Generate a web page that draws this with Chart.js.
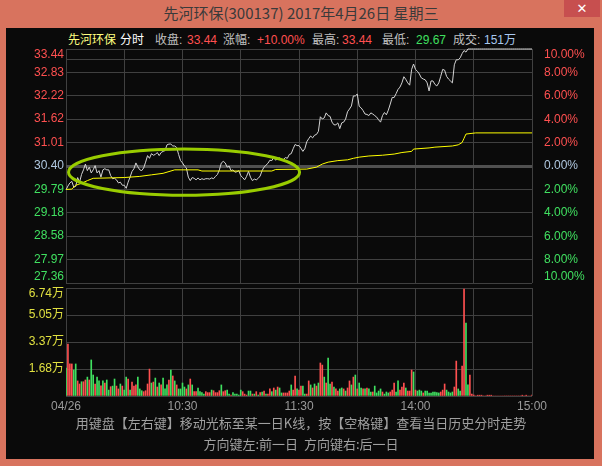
<!DOCTYPE html>
<html><head><meta charset="utf-8">
<script src="https://cdn.jsdelivr.net/npm/chart.js@4"></script>
<style>
html,body{margin:0;padding:0;}
body{width:602px;height:466px;overflow:hidden;position:relative;background:#d8735e;font-family:"Noto Sans CJK SC",sans-serif;}
#title{position:absolute;left:0;top:3px;width:602px;text-align:center;font-size:15px;line-height:20px;color:#3a3a3a;}
#close{position:absolute;left:564px;top:0;width:36px;height:17px;background:#c74f4f;color:#fff;text-align:center;font:bold 13px/17px "DejaVu Sans",sans-serif;}
#panel{position:absolute;left:6px;top:28px;width:588px;height:431px;background:#0a0a0a;}
.info{position:absolute;top:32px;font-size:12px;line-height:16px;white-space:nowrap;font-family:"Liberation Sans","Noto Sans CJK SC",sans-serif;}
.tip{position:absolute;left:0;width:602px;text-align:center;color:#a0a0a0;font-size:13px;line-height:16px;white-space:pre;}
canvas{position:absolute;left:0;}
</style></head>
<body>
<div id="title">先河环保(300137) 2017年4月26日 星期三</div>
<div id="close">✕</div>
<div id="panel"></div>
<span class="info" style="left:68px;color:#ffff80">先河环保</span>
<span class="info" style="left:120px;color:#ffffff">分时</span>
<span class="info" style="left:155px;color:#c0c0c0">收盘:</span>
<span class="info" style="left:187px;color:#ff5050">33.44</span>
<span class="info" style="left:223px;color:#c0c0c0">涨幅:</span>
<span class="info" style="left:257px;color:#ff5050">+10.00%</span>
<span class="info" style="left:312px;color:#c0c0c0">最高:</span>
<span class="info" style="left:342px;color:#ff5050">33.44</span>
<span class="info" style="left:382px;color:#c0c0c0">最低:</span>
<span class="info" style="left:416px;color:#40e060">29.67</span>
<span class="info" style="left:453px;color:#c0c0c0">成交:</span>
<span class="info" style="left:484px;color:#a8c8f0">151万</span>
<canvas id="cp" width="602" height="290" style="top:0"></canvas>
<canvas id="cv" width="602" height="140" style="top:280px"></canvas>
<div class="tip" style="top:415px">用键盘【左右键】移动光标至某一日K线，按【空格键】查看当日历史分时走势</div>
<div class="tip" style="top:436px">方向键左:前一日  方向键右:后一日</div>
<script>
// ---- data (minute index 0 = 9:30, 120 = 11:30/13:00, 240 = 15:00) ----
const prevClose = 30.40;
const priceTicks = [27.36, 27.97, 28.58, 29.18, 29.79, 30.40, 31.01, 31.62, 32.22, 32.83, 33.44];
const extraPriceLine = 33.18;
const pctTicks = [-10, -8, -6, -4, -2, 0, 2, 4, 6, 8, 10];
const pctLabels = ['10.00%','8.00%','6.00%','4.00%','2.00%','0.00%','2.00%','4.00%','6.00%','8.00%','10.00%'];
const volTicks = [0, 1.68, 3.37, 5.05, 6.74];
const volLabels = ['', '1.68万', '3.37万', '5.05万', '6.74万'];
const gridMinutes = [0, 30, 60, 90, 120, 150, 180, 210, 240];
const timeLabelMinutes = [0, 60, 120, 180, 240];
const timeLabels = ['04/26', '10:30', '11:30', '14:00', '15:00'];

const prices = [
 29.78, 29.88, 29.96, 30.00, 29.85, 29.87, 30.10, 29.98, 30.18, 30.30,
 30.45, 30.28, 30.37, 30.22, 30.30, 30.41, 30.22, 30.28, 30.11, 30.30,
 30.33, 30.30, 30.30, 30.15, 30.07, 30.08, 30.04, 29.96, 29.98, 29.90,
 29.90, 29.82, 29.98, 30.11, 30.26, 30.33, 30.48, 30.38, 30.30, 30.28,
 30.35, 30.50, 30.67, 30.60, 30.72, 30.68, 30.70, 30.75, 30.67, 30.75,
 30.78, 30.80, 30.95, 30.97, 30.97, 30.92, 30.92, 30.88, 30.70, 30.54,
 30.48, 30.40, 30.35, 30.11, 30.02, 30.10, 30.08, 30.04, 30.09, 30.04,
 30.07, 30.05, 30.07, 30.07, 30.06, 30.09, 30.07, 30.13, 30.18, 30.30,
 30.48, 30.52, 30.48, 30.37, 30.40, 30.28, 30.30, 30.24, 30.25, 30.28,
 30.15, 30.10, 30.04, 30.13, 30.26, 30.11, 30.02, 30.06, 30.04, 30.08,
 30.14, 30.28, 30.37, 30.42, 30.47, 30.55, 30.54, 30.62, 30.55, 30.60,
 30.61, 30.56, 30.57, 30.62, 30.60, 30.70, 30.72, 30.85, 30.96, 30.93,
 30.93,
 30.86, 30.78, 30.85, 31.03, 31.11, 31.18, 31.13, 31.20, 31.22, 31.30,
 31.68, 31.62, 31.65, 31.78, 31.71, 31.69, 31.54, 31.47, 31.47, 31.52,
 31.37, 31.52, 31.54, 31.62, 31.81, 31.88, 31.96, 32.22, 32.22, 32.27,
 31.95, 31.91, 31.84, 31.75, 31.74, 31.71, 31.78, 31.75, 31.71, 31.67,
 31.60, 31.54, 31.71, 31.79, 31.73, 31.85, 32.01, 32.18, 32.18, 32.28,
 32.39, 32.45, 32.56, 32.72, 32.65, 32.56, 32.50, 32.91, 33.05, 32.91,
 32.86, 32.79, 32.69, 32.66, 32.64, 32.56, 32.35, 32.61, 32.61, 32.52,
 32.48, 32.56, 32.73, 32.91, 32.89, 32.73, 32.66, 32.61, 32.56, 33.03,
 33.16, 33.16, 33.21, 33.32, 33.40, 33.36,
 33.44, 33.44, 33.44, 33.44, 33.44, 33.44, 33.44, 33.44, 33.44, 33.44,
 33.44, 33.44, 33.44, 33.44, 33.44, 33.44, 33.44, 33.44, 33.44, 33.44,
 33.44, 33.44, 33.44, 33.44, 33.44, 33.44, 33.44, 33.44, 33.44, 33.44,
 33.44, 33.44, 33.44, 33.44
];

const avgMinutes = [0, 3, 5, 8, 11, 14, 30, 38, 44, 50, 56, 68, 70, 106, 108, 124, 129, 132, 135, 140,
 145, 148, 151, 156, 163, 169, 173, 178, 179, 187, 190, 199, 202, 204, 205, 206, 211, 240];
const avgPrices = [29.79, 29.80, 29.90, 29.95, 30.02, 30.08, 30.10, 30.13, 30.17, 30.21, 30.30, 30.30, 30.27, 30.27, 30.31, 30.32, 30.37, 30.45, 30.50, 30.54,
 30.56, 30.60, 30.63, 30.66, 30.68, 30.71, 30.75, 30.78, 30.84, 30.87, 30.89, 30.92, 30.95, 31.01, 31.12, 31.23, 31.26, 31.26];

// volume in 万 shares per minute (241 minutes)
const volumes = [
 1.75,
 3.24, 2.0, 2.0, 1.62, 2.0, 0.94, 0.75, 0.89, 0.89, 1.0,
 1.18, 1.0, 2.25, 1.31, 0.75, 1.18, 0.94, 0.64, 0.94, 0.81,
 1.0, 0.37, 0.58, 0.62, 1.06, 0.62, 0.44, 0.75, 0.62, 0.37,
 1.18, 1.06, 0.37, 0.87, 0.62, 0.69, 1.18, 0.44, 0.33, 0.27,
 0.33, 0.75, 1.68, 0.81, 0.87, 1.12, 0.56, 0.81, 0.69, 1.12,
 0.44, 0.69, 1.0, 1.62, 1.25, 0.94, 0.69, 0.44, 0.44, 0.81,
 0.56, 0.44, 0.69, 1.06, 0.69, 0.27, 0.27, 0.5, 0.27, 0.21,
 0.12, 0.27, 0.21, 0.21, 0.37, 0.33, 0.21, 0.21, 0.33, 0.69,
 0.27, 0.33, 0.37, 0.12, 0.06, 0.21, 0.12, 0.12, 0.06, 0.37,
 0.27, 0.12, 0.06, 0.31, 0.31, 0.12, 0.12, 0.27, 0.06, 0.21, 0.25,
 0.31, 0.12, 0.12, 0.44, 0.27, 0.5, 0.37, 0.56, 0.5, 0.19,
 0.19, 0.19, 0.19, 0.31, 0.69, 0.37, 1.25, 0.44, 0.37,
 0.62, 0.62, 0.12, 0.12, 0.94, 0.69, 0.5, 0.75, 0.62, 0.81,
 2.06, 1.93, 1.18, 0.81, 2.37, 0.75, 0.87, 0.56, 0.44, 0.31,
 0.44, 0.5, 0.44, 0.31, 0.5, 0.94, 0.69, 1.18, 1.31, 0.44,
 0.81, 0.5, 0.44, 0.44, 0.5, 0.44, 0.25, 0.25, 0.62, 0.19,
 0.31, 0.44, 0.25, 0.12, 0.25, 0.19, 0.25, 0.37, 0.81, 0.25,
 0.94, 0.37, 0.56, 0.81, 0.5, 0.31, 0.31, 1.62, 1.5, 0.37,
 0.31, 0.37, 0.31, 0.19, 0.31, 0.31, 0.19, 0.19, 0.25, 0.25, 0.22,
 0.19, 0.25, 0.37, 0.75, 0.37, 0.25, 0.19, 0.25, 0.56, 2.18,
 0.44, 0.31, 1.87, 6.67, 4.55, 0.69, 1.31, 0.12, 0.06,
 0, 0.05, 0.05, 0.05, 0, 0, 0.05, 0.05, 0.05,
 0, 0, 0, 0, 0, 0, 0, 0, 0, 0, 0, 0, 0, 0, 0,
 0.05, 0, 0.05, 0, 0, 0.05
];
// r = up minute (red), g = down minute (green)
const volumeSides =
 "g" +
 "rrrggrrgrr" + "grggrggrgr" + "ggrggrrgrg" + "grgrrrgggr" + "rrrgrgrgrg" + "ggrgrgrggg" +
 "grgrgrrggg" + "grrrgrrrrg" + "rrggrggggg" + "rrrggrgrgrg" + "rgrrgrgrgg" + "rrrrgrrgr" +
 "rggrrgrgrg" + "rrgrggrgrr" + "ggrgrrgrgr" + "ggrgrggrgg" + "ggrgggrrrg" + "grrrgrrrgr" +
 "gggrggggggg" + "grrrggggrr" + "ggrrggrrr" +
 "rrrrrrrrr" + "rrrrrrrrrrrrrrr" + "rrrrrr";

// annotation ellipse (in data units)
const ellipseMinute = 60.8, ellipsePrice = 30.24, ellipseHalfMinutes = 59.5, ellipseHalfPrice = 0.60;

// ---- styling ----
const GRID = '#404040';
const RED = '#ff5050', GREEN = '#40e060', NEUTRAL = '#b0c8e0';
const NUMFONT = '"Liberation Sans", "Noto Sans CJK SC", sans-serif';

const ellipsePlugin = {
  id: 'ellipseMark',
  afterDatasetsDraw(chart) {
    const {ctx, scales: {x, y}} = chart;
    const cx = x.getPixelForValue(ellipseMinute), cy = y.getPixelForValue(ellipsePrice);
    const rx = x.getPixelForValue(ellipseMinute + ellipseHalfMinutes) - cx;
    const ry = cy - y.getPixelForValue(ellipsePrice + ellipseHalfPrice);
    ctx.save();
    ctx.beginPath();
    ctx.ellipse(cx, cy, rx, ry, 0, 0, Math.PI * 2);
    ctx.strokeStyle = '#99cc00';
    ctx.lineWidth = 3;
    ctx.stroke();
    ctx.restore();
  }
};

const xCommon = (showLabels) => ({
  type: 'linear', min: 0, max: 240, offset: false,
  afterBuildTicks: s => { s.ticks = gridMinutes.map(v => ({value: v})); },
  ticks: {
    display: showLabels, autoSkip: false, maxRotation: 0, padding: 3,
    color: '#9a9a9a', font: {family: NUMFONT, size: 12},
    callback: v => { const i = timeLabelMinutes.indexOf(v); return i >= 0 ? timeLabels[i] : ''; }
  },
  grid: {color: GRID, drawTicks: false, offset: false},
  border: {display: false},
  afterFit: s => { s.height = showLabels ? 24 : 0; s.paddingLeft = 0; s.paddingRight = 0; }
});

const priceAllTicks = priceTicks.concat([extraPriceLine]).sort((a, b) => a - b);

new Chart(document.getElementById('cp'), {
  type: 'line',
  data: {
    datasets: [
      {data: avgMinutes.map((m, i) => ({x: m, y: avgPrices[i]})), borderColor: '#ffff00', borderWidth: 1, pointRadius: 0, tension: 0, clip: 3},
      {data: prices.map((p, i) => ({x: i, y: p})), borderColor: '#d4d4d4', borderWidth: 1, pointRadius: 0, tension: 0, clip: 3}
    ]
  },
  options: {
    responsive: false, animation: false, devicePixelRatio: 1,
    plugins: {legend: {display: false}, tooltip: {enabled: false}},
    layout: {padding: {top: 49, bottom: 7, left: 0, right: 0}},
    scales: {
      x: xCommon(false),
      y: {
        position: 'left', min: priceTicks[0], max: priceTicks[priceTicks.length - 1],
        afterBuildTicks: s => { s.ticks = priceAllTicks.map(v => ({value: v})); },
        ticks: {
          autoSkip: false, padding: 2,
          font: {family: NUMFONT, size: 12, lineHeight: 1},
          color: c => { const v = c.tick.value; return v > prevClose + 1e-6 ? RED : (v < prevClose - 1e-6 ? GREEN : NEUTRAL); },
          callback: (v, i, arr) => {
            if (Math.abs(v - extraPriceLine) < 1e-6) return '';
            const t = v.toFixed(2);
            if (i === arr.length - 1) return ['', t];
            if (i === 0) return [t, ''];
            return t;
          }
        },
        grid: {
          drawTicks: false,
          color: c => (c.tick && Math.abs(c.tick.value - prevClose) < 1e-6) ? '#505050' : GRID,
          lineWidth: c => (c.tick && Math.abs(c.tick.value - prevClose) < 1e-6) ? 3 : 1
        },
        border: {display: false},
        afterFit: s => { s.width = 66; s.paddingTop = 0; s.paddingBottom = 0; }
      },
      y2: {
        position: 'right', min: pctTicks[0], max: pctTicks[pctTicks.length - 1],
        afterBuildTicks: s => { s.ticks = pctTicks.map(v => ({value: v})); },
        ticks: {
          autoSkip: false, padding: 4,
          font: {family: NUMFONT, size: 12, lineHeight: 1},
          color: c => c.tick.value > 0 ? RED : (c.tick.value < 0 ? GREEN : NEUTRAL),
          callback: (v, i, arr) => {
            const t = pctLabels[pctTicks.indexOf(v)];
            if (i === arr.length - 1) return ['', t];
            if (i === 0) return [t, ''];
            return t;
          }
        },
        grid: {display: false},
        border: {display: false},
        afterFit: s => { s.width = 70; s.paddingTop = 0; s.paddingBottom = 0; }
      }
    }
  },
  plugins: [ellipsePlugin]
});

new Chart(document.getElementById('cv'), {
  type: 'bar',
  data: {
    datasets: [{
      data: volumes.map((v, i) => ({x: i, y: v})),
      backgroundColor: volumes.map((v, i) => volumeSides[i] === 'g' ? GREEN : RED),
      borderWidth: 0, barThickness: 1
    }]
  },
  options: {
    responsive: false, animation: false, devicePixelRatio: 1,
    plugins: {legend: {display: false}, tooltip: {enabled: false}},
    layout: {padding: {top: 8, bottom: 0, left: 0, right: 70}},
    scales: {
      x: xCommon(true),
      y: {
        position: 'left', min: volTicks[0], max: volTicks[volTicks.length - 1],
        afterBuildTicks: s => { s.ticks = volTicks.map(v => ({value: v})); },
        ticks: {
          autoSkip: false, padding: 2, color: '#e0e040',
          font: {family: NUMFONT, size: 12, lineHeight: 1},
          callback: (v, i, arr) => {
            const t = volLabels[volTicks.indexOf(v)];
            if (i === arr.length - 1) return ['', t];
            return t;
          }
        },
        grid: {drawTicks: false, color: GRID},
        border: {display: false},
        afterFit: s => { s.width = 66; s.paddingTop = 0; s.paddingBottom = 0; }
      }
    }
  }
});
</script>
</body></html>
